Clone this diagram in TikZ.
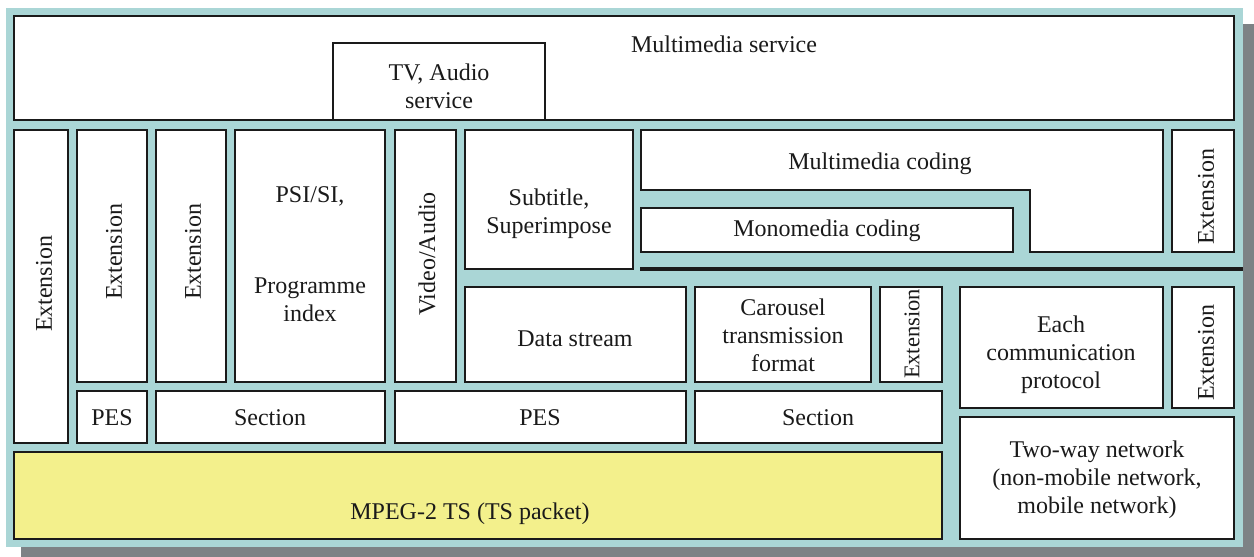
\documentclass[tikz,border=0pt]{standalone}
\usepackage{fontspec}
\setmainfont{Liberation Serif}
\usetikzlibrary{fit}
\definecolor{panel}{HTML}{AAD6D6}
\definecolor{shad}{HTML}{7D8285}
\definecolor{yel}{HTML}{F3F08C}
\definecolor{ink}{HTML}{1A1A1A}
\begin{document}
\begin{tikzpicture}[x=1pt,y=-1pt,
  font=\fontsize{24}{28}\selectfont,
  box/.style={draw=ink, line width=1.8pt, fill=white, inner sep=0pt},
  lbl/.style={align=center, inner sep=0pt, text=ink},
  vlbl/.style={rotate=90, inner sep=0pt, text=ink}]
\useasboundingbox (0,0) rectangle (1254,557);
\fill[shad] (21,24) rectangle (1254,557);
\fill[panel] (6,8) rectangle (1243,547);

% top service row
\node[box, fit={(14,16) (1234,120)}] (ms) {};
\node[lbl] (mst) at (724,44) {Multimedia service};
\node[box, fit={(333,43) (545,120)}] (tv) {};
\node[lbl] (tvt) at (439,86) {TV, Audio\\service};

% left columns
\node[box, fit={(14,130) (68,443)}] (ext1) {};
\node[vlbl] (ext1t) at (44,284) {Extension};
\node[box, fit={(77,130) (147,382)}] (ext2) {};
\node[vlbl] (ext2t) at (114,252) {Extension};
\node[box, fit={(156,130) (226,382)}] (ext3) {};
\node[vlbl] (ext3t) at (193,252) {Extension};
\node[box, fit={(235,130) (385,382)}] (psi) {};
\node[lbl] (psit1) at (310,196) {PSI/SI,};
\node[lbl] (psit2) at (310,300) {Programme\\index};
\node[box, fit={(395,130) (456,382)}] (va) {};
\node[vlbl] (vat) at (427,254) {Video/Audio};
\node[box, fit={(465,130) (633,269)}] (sub) {};
\node[lbl] (subt) at (549,214) {Subtitle,\\Superimpose};

% multimedia coding (notched shape)
\draw[draw=ink, line width=1.8pt, fill=white] (641,130) -- (1163,130) -- (1163,252)
  -- (1030,252) -- (1030,190) -- (641,190) -- cycle;
\node[lbl] (mmc) at (880,164) {Multimedia coding};
\node[box, fit={(641,208) (1013,252)}] (mono) {};
\node[lbl] (monot) at (827,231) {Monomedia coding};
\node[box, fit={(1172,130) (1234,252)}] (ext4) {};
\node[vlbl] (ext4t) at (1206,197) {Extension};

% thick separator
\coordinate (sepL) at (640,269);
\coordinate (sepR) at (1243,269);
\draw[ink, line width=4pt] (sepL) -- (sepR);

% lower middle row
\node[box, fit={(465,287) (686,382)}] (ds) {};
\node[lbl] (dst) at (575,339) {Data stream};
\node[box, fit={(695,287) (871,382)}] (car) {};
\node[lbl] (cart) at (783,335) {Carousel\\transmission\\format};
\node[box, fit={(880,287) (942,382)}] (ext5) {};
\node[vlbl, font=\fontsize{22.5}{26}\selectfont] (ext5t) at (912,334) {Extension};

% PES / Section row
\node[box, fit={(77,391) (147,443)}] (pes1) {};
\node[lbl] (pes1t) at (112,418) {PES};
\node[box, fit={(156,391) (385,443)}] (sec1) {};
\node[lbl] (sec1t) at (270,418) {Section};
\node[box, fit={(395,391) (686,443)}] (pes2) {};
\node[lbl] (pes2t) at (540,418) {PES};
\node[box, fit={(695,391) (942,443)}] (sec2) {};
\node[lbl] (sec2t) at (818,418) {Section};

% transport
\node[box, fill=yel, fit={(14,452) (942,539)}] (ts) {};
\node[lbl] (tst) at (470,514) {MPEG-2 TS (TS packet)};

% communication side
\node[box, fit={(960,287) (1163,408)}] (comm) {};
\node[lbl] (commt) at (1061,355) {Each\\communication\\protocol};
\node[box, fit={(1172,287) (1234,408)}] (ext6) {};
\node[vlbl] (ext6t) at (1206,353) {Extension};
\node[box, fit={(960,417) (1234,539)}] (net) {};
\node[lbl] (nett) at (1097,480) {Two-way network\\(non-mobile network,\\mobile network)};
\end{tikzpicture}
\end{document}
